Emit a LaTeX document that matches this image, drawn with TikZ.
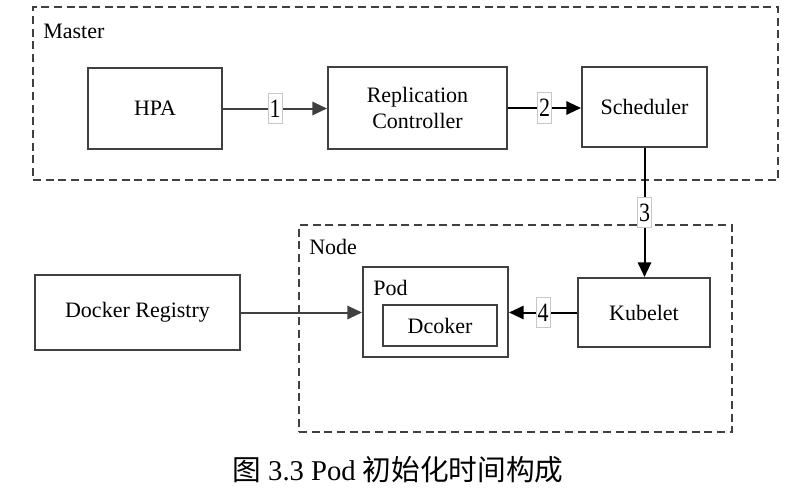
\documentclass[tikz,border=0pt]{standalone}
\usepackage{fontspec}
\usepackage{graphicx}
\setmainfont{Liberation Serif}
\newfontfamily\cjk{Noto Sans CJK SC}
\usetikzlibrary{arrows.meta}
\definecolor{boxgray}{HTML}{404040}
\newcommand{\stepno}[1]{\scalebox{1}[1.2]{#1}}

\begin{document}
\begin{tikzpicture}[x=0.75pt, y=-0.75pt,
  font=\fontsize{16.5}{19}\selectfont,
  comp box/.style={draw=boxgray, line width=1.5pt, fill=white, align=center, inner sep=0pt},
  group box/.style={draw=boxgray, line width=1.5pt, dash pattern=on 6pt off 3.5pt, inner sep=0pt},
  num label/.style={draw=black!22, line width=0.6pt, fill=white, inner sep=0.5pt, minimum width=10.5pt, minimum height=23pt},
  gray arrow/.style={draw=boxgray, line width=1.5pt, -{Triangle[length=11pt, width=10pt]}},
  black arrow/.style={draw=black, line width=1.5pt, -{Triangle[length=11pt, width=10pt]}}]

\useasboundingbox (0,0) rectangle (798,503);

% dashed groups
\node[group box, minimum width=558.75pt, minimum height=129.75pt] (master box) at (405.5, 93.5) {};
\node[anchor=west, inner sep=0pt] (master label) at (43, 31) {Master};

\node[group box, minimum width=324.75pt, minimum height=155.25pt] (node box) at (515.5, 328.5) {};
\node[anchor=west, inner sep=0pt] (node label) at (309, 247) {Node};

% master components
\node[comp box, minimum width=100.5pt, minimum height=60.75pt] (hpa) at (155, 108.5) {HPA};
\node[comp box, minimum width=134.25pt, minimum height=61.5pt] (rc) at (417.5, 108) {Replication\\Controller};
\node[comp box, minimum width=93.75pt, minimum height=60pt] (scheduler) at (644.5, 107) {Scheduler};

% node components
\node[comp box, minimum width=153.75pt, minimum height=56.25pt] (registry) at (137.5, 312.5) {Docker Registry};
\node[comp box, minimum width=108.75pt, minimum height=67.5pt] (pod) at (435.5, 312) {};
\node[anchor=west, inner sep=0pt] (pod label) at (373, 288) {Pod};
\node[comp box, minimum width=85.5pt, minimum height=30.75pt] (dcoker) at (440, 325.5) {Dcoker};
\node[comp box, minimum width=99pt, minimum height=51.75pt] (kubelet) at (644, 312.5) {Kubelet};

% steps
\draw[gray arrow] (hpa.east) -- (hpa.east -| rc.west) node[num label, midway] (step one) {\stepno{1}};
\draw[black arrow] (rc.east) -- (rc.east -| scheduler.west) node[num label, midway] (step two) {\stepno{2}};
\draw[black arrow] (scheduler.south) -- (scheduler.south |- kubelet.north) node[num label, midway] (step three) {\stepno{3}};
\draw[black arrow] (kubelet.west) -- (kubelet.west -| pod.east) node[num label, midway] (step four) {\stepno{4}};
\draw[gray arrow] (registry.east) -- (registry.east -| pod.west);

\node (caption) at (398, 470) {\fontsize{21.5}{24}\selectfont{\cjk 图} 3.3 Pod {\cjk 初始化时间构成}};
\end{tikzpicture}
\end{document}
